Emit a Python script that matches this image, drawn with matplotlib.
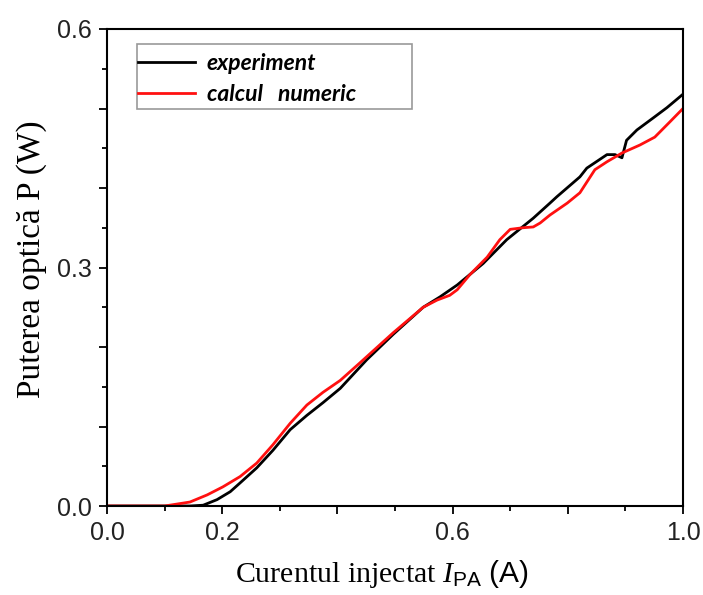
import matplotlib
matplotlib.use("Agg")
import matplotlib.pyplot as plt
from matplotlib.patches import Rectangle
from matplotlib.ticker import MultipleLocator

# experiment (black)
exp_x = [0.0, 0.144, 0.167, 0.191, 0.214, 0.231, 0.260, 0.288, 0.318, 0.347, 0.375,
         0.405, 0.451, 0.497, 0.549, 0.578, 0.608, 0.653, 0.694, 0.740, 0.769, 0.781,
         0.821, 0.833, 0.868, 0.882, 0.894, 0.902, 0.920, 0.948, 0.972, 1.0]
exp_y = [0.0, 0.0, 0.001, 0.008, 0.018, 0.029, 0.048, 0.070, 0.096, 0.114, 0.130,
         0.148, 0.184, 0.216, 0.250, 0.263, 0.278, 0.305, 0.335, 0.362, 0.381, 0.389,
         0.414, 0.425, 0.442, 0.442, 0.438, 0.460, 0.473, 0.488, 0.501, 0.518]

# calcul numeric (red)
num_x = [0.0, 0.10, 0.144, 0.174, 0.201, 0.231, 0.260, 0.288, 0.318, 0.347, 0.375,
         0.405, 0.439, 0.497, 0.549, 0.573, 0.595, 0.608, 0.630, 0.660, 0.682, 0.700,
         0.722, 0.740, 0.752, 0.769, 0.799, 0.821, 0.847, 0.868, 0.894, 0.925, 0.951,
         0.977, 1.0]
num_y = [0.0, 0.0, 0.005, 0.014, 0.024, 0.037, 0.054, 0.077, 0.104, 0.127, 0.143,
         0.158, 0.180, 0.218, 0.250, 0.259, 0.265, 0.272, 0.291, 0.313, 0.335, 0.348,
         0.350, 0.351, 0.356, 0.366, 0.381, 0.394, 0.423, 0.433, 0.444, 0.454, 0.464,
         0.483, 0.500]

x_major = [0.0, 0.2, 0.4, 0.6, 0.8, 1.0]
x_labels = ["0.0", "0.2", "", "0.6", "", "1.0"]
y_major = [0.0, 0.1, 0.2, 0.3, 0.4, 0.5, 0.6]
y_labels = ["0.0", "", "", "0.3", "", "", "0.6"]

plt.rcParams['mathtext.fontset'] = 'custom'
plt.rcParams['mathtext.rm'] = 'Liberation Serif'
plt.rcParams['mathtext.it'] = 'Liberation Serif:italic'
plt.rcParams['mathtext.sf'] = 'Liberation Sans'

fig = plt.figure(figsize=(7.03, 5.95), dpi=100)
ax = fig.add_axes([107/703, 1-506/595, 576/703, 477/595])

ax.plot(exp_x, exp_y, color='black', lw=2.0, label='experiment')
ax.plot(num_x, num_y, color='#ff1010', lw=2.0, label='calcul   numeric')

ax.set_xlim(0, 1.0)
ax.set_ylim(0, 0.6)

ax.xaxis.set_minor_locator(MultipleLocator(0.1))
ax.yaxis.set_minor_locator(MultipleLocator(0.05))
ax.set_xticks(x_major)
ax.set_xticklabels(x_labels)
ax.set_yticks(y_major)
ax.set_yticklabels(y_labels)

ax.tick_params(which='major', direction='out', length=6, width=1.3, labelsize=18,
               pad=5, labelcolor='#222222')
ax.tick_params(which='minor', direction='out', length=3.5, width=1.3)
for lab in ax.get_xticklabels() + ax.get_yticklabels():
    lab.set_family('Liberation Sans')
for s in ax.spines.values():
    s.set_linewidth(1.5)

ax.set_xlabel(r"Curentul injectat $\mathit{I}_{\mathsf{PA}}$ $\mathsf{(A)}$",
              fontsize=21.5, family='Liberation Serif')
ax.xaxis.set_label_coords(0.477, -0.108)
ax.set_ylabel("Puterea optică P (W)", fontsize=24, family='Liberation Serif')
ax.yaxis.set_label_coords(-0.104, 0.517)

# legend frame
ax.add_patch(Rectangle((0.052, 0.832), 0.478, 0.137, transform=ax.transAxes,
                       fill=False, edgecolor='#999999', lw=1.2, zorder=5))
leg = ax.legend(loc='upper left', bbox_to_anchor=(0.054, 0.95), frameon=False,
                handlelength=2.5, handletextpad=0.5, borderpad=0.0,
                borderaxespad=0.0, labelspacing=0.45,
                prop={'family': 'Lato', 'style': 'italic', 'weight': 'bold',
                      'size': 16.5})

fig.savefig("out.png", dpi=100)
